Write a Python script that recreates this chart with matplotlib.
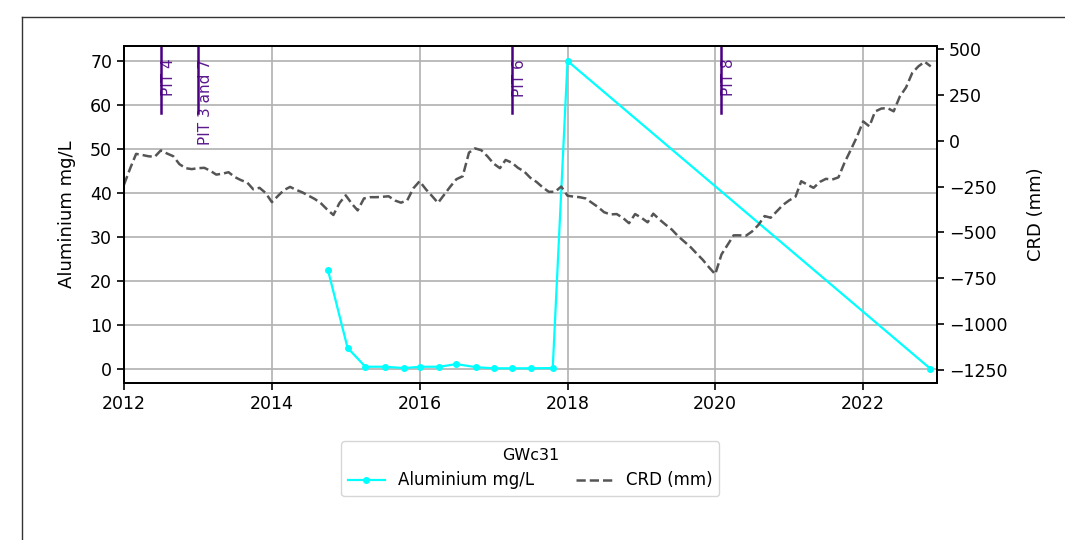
import pandas as pd
import matplotlib
matplotlib.use("Agg")
import matplotlib.pyplot as plt
import matplotlib.dates as mdates
from matplotlib.lines import Line2D

# Aluminium sampling (mg/L)
alum_dates = [
    "2014-10-05", "2015-01-10", "2015-04-08", "2015-07-12", "2015-10-18",
    "2016-01-05", "2016-04-08", "2016-07-01", "2016-10-06", "2017-01-02",
    "2017-04-01", "2017-07-05", "2017-10-20", "2018-01-01", "2022-11-28",
]
alum_vals = [22.5, 4.8, 0.5, 0.5, 0.2, 0.5, 0.5, 1.1, 0.4, 0.15,
             0.15, 0.15, 0.2, 70.0, 0.1]

# Cumulative rainfall deviation (mm), monthly 2012-01 .. 2022-12
crd_vals = [
    -240, -150, -72, -78, -85, -88, -53, -70, -85, -128, -150, -155,
    -150, -148, -163, -185, -180, -172, -198, -215, -228, -265, -257, -285,
    -335, -300, -270, -252, -268, -282, -300, -318, -342, -375, -405, -340,
    -298, -345, -380, -315, -308, -308, -306, -303, -326, -338, -325, -260,
    -221, -265, -300, -339, -295, -250, -210, -194, -65, -42, -52, -85,
    -125, -150, -105, -120, -148, -168, -202, -225, -255, -279, -278, -250,
    -300, -305, -308, -315, -338, -362, -390, -402, -400, -420, -450, -400,
    -420, -445, -398, -430, -458, -485, -520, -550, -580, -615, -650, -690,
    -728, -620, -570, -516, -516, -518, -495, -460, -411, -420, -384, -350,
    -325, -305, -221, -240, -257, -225, -208, -212, -200, -120, -50, 20,
    105, 78, 159, 175, 178, 160, 240, 290, 370, 405, 430, 405,
]
crd_dates = pd.date_range("2012-01-01", periods=len(crd_vals), freq="MS")

# Pit events
pit_dates = ["2012-07-01", "2013-01-01", "2017-04-01", "2020-02-01"]
pit_labels = ["PIT 4", "PIT 3 and 7", "PIT 6", "PIT 8"]

fig = plt.figure(figsize=(10.65, 5.4), dpi=100)
ax = fig.add_axes([0.1164, 0.2907, 0.7634, 0.6241])
ax2 = ax.twinx()

ax.plot(pd.to_datetime(alum_dates), alum_vals, color="cyan", marker="o",
        markersize=4, linewidth=1.6, label="Aluminium mg/L", zorder=3)
ax2.plot(crd_dates, crd_vals, color="#555555", linestyle="--",
         linewidth=1.8, label="CRD (mm)")

for d, lab in zip(pit_dates, pit_labels):
    d = pd.Timestamp(d)
    ax.axvline(d, ymin=0.8, ymax=1.0, color="indigo", linewidth=1.8)
    ax.text(d, 70.5, lab, rotation=90, ha="left", va="top", color="indigo",
            fontsize=11, alpha=0.9)

ax.set_xlim(pd.Timestamp("2012-01-01"), pd.Timestamp("2023-01-01"))
ax.set_ylim(-3.2, 73.4)
ax2.set_ylim(-1321, 516)
ax.set_yticks(range(0, 71, 10))
ax2.set_yticks([500, 250, 0, -250, -500, -750, -1000, -1250])

ax.xaxis.set_major_locator(mdates.YearLocator(2))
ax.xaxis.set_major_formatter(mdates.DateFormatter("%Y"))
ax.grid(True, color="#b0b0b0", linewidth=1.2)
ax.set_axisbelow(True)

ax.set_ylabel("Aluminium mg/L", fontsize=13, labelpad=10)
ax2.set_ylabel("CRD (mm)", fontsize=13, labelpad=14)
for a in (ax, ax2):
    a.tick_params(labelsize=12.5, width=1.2, length=5)
    for s in a.spines.values():
        s.set_linewidth(1.4)

h1, l1 = ax.get_legend_handles_labels()
h2, l2 = ax2.get_legend_handles_labels()
fig.legend(h1 + h2, l1 + l2, title="GWc31", ncol=2, loc="upper center",
           bbox_to_anchor=(0.498, 0.198), fontsize=12, title_fontsize=11.5,
           handlelength=2.2, columnspacing=2.5)

# frame lines from the surrounding page
fig.add_artist(Line2D([22 / 1065, 1], [1 - 17 / 540, 1 - 17 / 540],
                      color="#333333", linewidth=1))
fig.add_artist(Line2D([22 / 1065, 22 / 1065], [0, 1 - 17 / 540],
                      color="#333333", linewidth=1))

fig.savefig("out.png", dpi=100)
